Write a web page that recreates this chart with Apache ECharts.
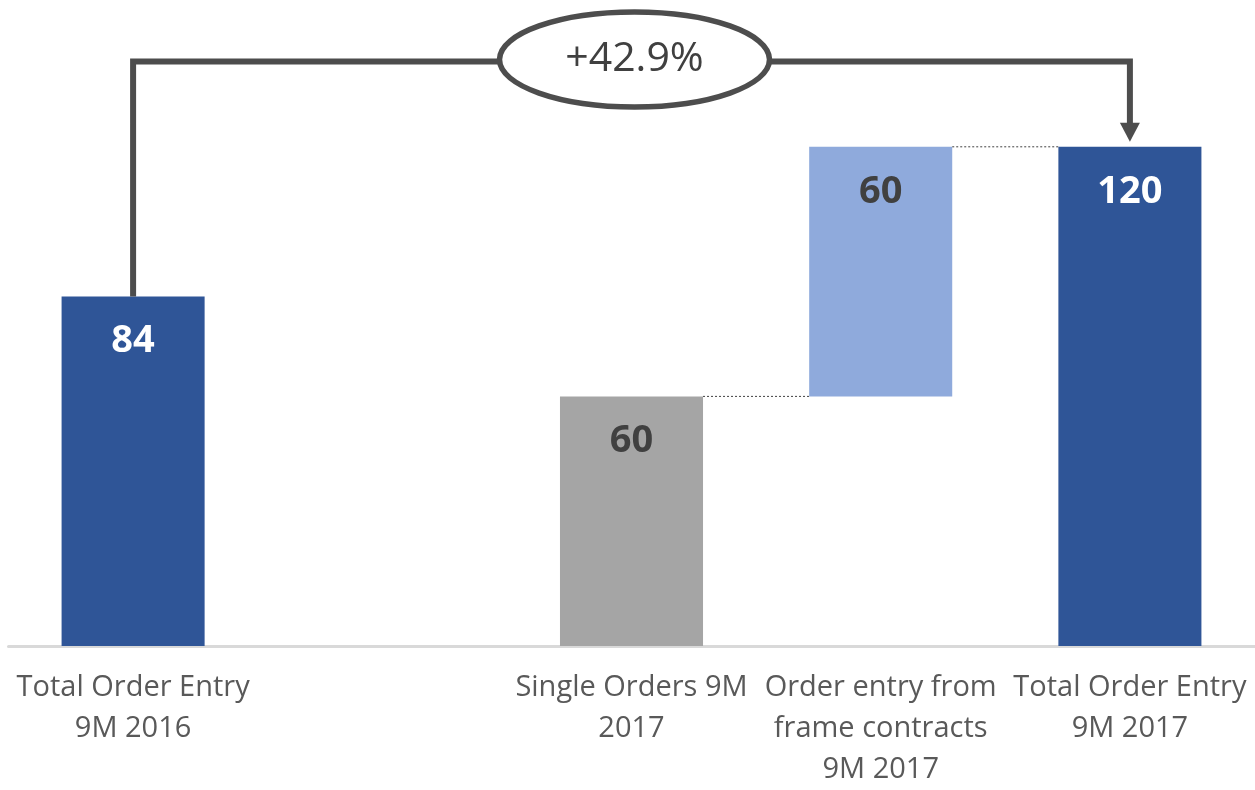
<!DOCTYPE html>
<html>
<head>
<meta charset="utf-8">
<style>
  html, body { margin: 0; padding: 0; background: #ffffff; overflow: hidden; width: 100%; height: 100%; }
  #chart { width: 100vw; height: 100vh; }
</style>
<script src="https://cdn.jsdelivr.net/npm/echarts@6/dist/echarts.min.js"></script>
</head>
<body>
<div id="chart"></div>
<script>
// ---- data ----
const categories = [
  'Total Order Entry\n9M 2016',
  '',
  'Single Orders 9M\n2017',
  'Order entry from\nframe contracts\n9M 2017',
  'Total Order Entry\n9M 2017'
];
const barValues = [84, null, 60, 60, 120];
const barBases  = [0, null, 0, 60, 0];
const fromIndex = 0;   // bracket start
const toIndex = 4;     // bracket end

// ---- styles ----
const barColors   = ['#2F5597', null, '#A5A5A5', '#8FAADC', '#2F5597'];
const labelColors = ['#FFFFFF', null, '#404040', '#404040', '#FFFFFF'];
const barFrac = 0.574;
const bracketLevel = 140.5;

const pct = (barValues[toIndex] - barValues[fromIndex]) / barValues[fromIndex] * 100;
const pctText = (pct >= 0 ? '+' : '') + pct.toFixed(1) + '%';

// connectors: from top of bar i to next bar
const connectors = [];
for (let i = 0; i < barValues.length - 1; i++) {
  if (barValues[i] == null || barValues[i + 1] == null) continue;
  if (i === fromIndex) continue;
  connectors.push([i, barBases[i] + barValues[i]]);
}

const chart = echarts.init(document.getElementById('chart'));
chart.setOption({
  backgroundColor: '#ffffff',
  animation: false,
  grid: { left: 8.5, right: 0.5, top: 22, bottom: 137, containLabel: false },
  xAxis: {
    type: 'category',
    data: categories,
    axisLine: { show: true, lineStyle: { color: '#D9D9D9', width: 3 } },
    axisTick: { show: false },
    axisLabel: {
      interval: 0,
      margin: 21,
      color: '#595959',
      fontSize: 29,
      lineHeight: 41,
      fontFamily: "'Open Sans', sans-serif"
    }
  },
  yAxis: {
    type: 'value', min: 0, max: 150, show: false,
    splitLine: { show: false }
  },
  series: [
    {
      type: 'bar', stack: 'w', barWidth: (barFrac * 100) + '%',
      itemStyle: { color: 'transparent' },
      silent: true,
      data: barBases.map(v => v == null ? '-' : v)
    },
    {
      type: 'bar', stack: 'w',
      data: barValues.map((v, i) => v == null ? '-' : {
        value: v,
        itemStyle: { color: barColors[i] },
        label: { color: labelColors[i] }
      }),
      label: {
        show: true,
        position: 'insideTop',
        distance: 26,
        fontSize: 38,
        fontWeight: 'bold',
        fontFamily: "'Open Sans', sans-serif"
      }
    },
    {
      type: 'custom',
      silent: true,
      data: connectors,
      z: 5,
      renderItem: function (params, api) {
        const p = api.coord([api.value(0), api.value(1)]);
        const w = api.size([1, 0])[0];
        const half = w * barFrac / 2;
        return {
          type: 'line',
          shape: { x1: p[0] + half, y1: p[1], x2: p[0] + w - half, y2: p[1] },
          style: { stroke: '#404040', lineWidth: 1, lineDash: [2, 2] }
        };
      }
    }
  ]
});

// ---- bracket annotation ----
function drawBracket() {
  const a = chart.convertToPixel({ gridIndex: 0 }, [fromIndex, barBases[fromIndex] + barValues[fromIndex]]);
  const b = chart.convertToPixel({ gridIndex: 0 }, [toIndex, barBases[toIndex] + barValues[toIndex]]);
  const top = chart.convertToPixel({ gridIndex: 0 }, [fromIndex, bracketLevel])[1];
  const tipY = b[1] - 5;
  const headH = 19, headW = 20;
  const cx = (a[0] + b[0]) / 2 + 3;
  const lineColor = '#4D4D4D';
  chart.setOption({
    graphic: [
      {
        type: 'polyline', z: 10, silent: true,
        shape: { points: [[a[0], a[1]], [a[0], top], [b[0], top], [b[0], tipY - headH + 1]] },
        style: { stroke: lineColor, lineWidth: 6, fill: null, lineJoin: 'miter' }
      },
      {
        type: 'polygon', z: 10, silent: true,
        shape: { points: [[b[0] - headW / 2, tipY - headH], [b[0] + headW / 2, tipY - headH], [b[0], tipY]] },
        style: { fill: lineColor }
      },
      {
        type: 'ellipse', z: 11, silent: true,
        shape: { cx: cx, cy: top - 2, rx: 135, ry: 47.5 },
        style: { fill: '#FFFFFF', stroke: lineColor, lineWidth: 5.5 }
      },
      {
        type: 'text', z: 12, silent: true,
        x: cx, y: top - 2,
        style: {
          text: pctText, fill: '#404040', fontSize: 41,
          fontFamily: "'Open Sans', sans-serif",
          align: 'center', verticalAlign: 'middle'
        }
      }
    ]
  });
}
drawBracket();
</script>
</body>
</html>
